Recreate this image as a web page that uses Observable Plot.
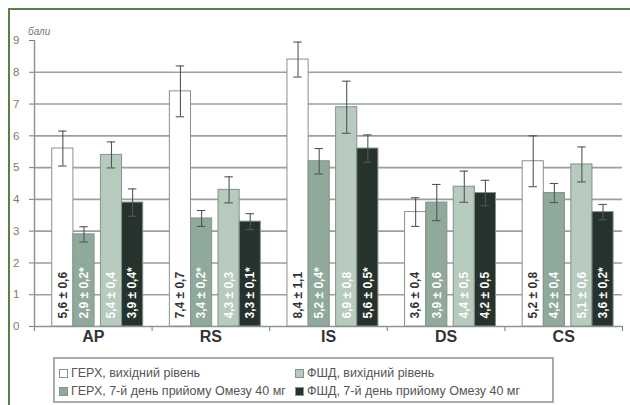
<!DOCTYPE html>
<html><head><meta charset="utf-8">
<script src="https://cdn.jsdelivr.net/npm/d3@7"></script>
<script src="https://cdn.jsdelivr.net/npm/@observablehq/plot@0.6"></script>
<style>
body{margin:0;background:#fff;}
#wrap{position:relative;width:630px;height:405px;overflow:hidden;background:#fff;font-family:"Liberation Sans",Arial,sans-serif;}
.bt{position:absolute;left:8px;top:8px;width:622px;height:2px;background:#5e7d43;}
.bl{position:absolute;left:8px;top:8px;width:2px;height:397px;background:#5e7d43;}
#chart{position:absolute;left:0;top:0;}
#unit{position:absolute;left:28px;top:26px;font-style:italic;font-size:10px;color:#777;}
#legend{position:absolute;left:53px;top:357px;width:501px;height:46px;border:2px solid #a7aeaa;box-sizing:border-box;
  font-family:"Liberation Sans",Arial,sans-serif;font-size:12.5px;color:#555;}
.li{position:absolute;display:flex;align-items:center;white-space:nowrap;line-height:14px;}
.sw{width:7px;height:7px;border:1px solid #87928c;margin-right:3px;}
</style></head>
<body><div id="wrap"><div class="bt"></div><div class="bl"></div><div id="chart"></div><div id="unit">бали</div><div id="legend"></div></div>
<script>
const categories = ["AP", "RS", "IS", "DS", "CS"];
const seriesNames = [
  "ГЕРХ, вихідний рівень",
  "ГЕРХ, 7-й день прийому Омезу 40 мг",
  "ФШД, вихідний рівень",
  "ФШД, 7-й день прийому Омезу 40 мг"
];
const seriesColors = ["#ffffff", "#8fa99a", "#b6cabd", "#25332c"];
const labelColors = ["#333333", "#ffffff", "#ffffff", "#ffffff"];

// bar values and the ± values printed in the labels
const gerdBase = [5.6, 7.4, 8.4, 3.6, 5.2];
const gerdBaseErr = [0.6, 0.7, 1.1, 0.4, 0.8];
const gerdBaseSig = [false, false, false, false, false];

const gerdDay7 = [2.9, 3.4, 5.2, 3.9, 4.2];
const gerdDay7Err = [0.2, 0.2, 0.4, 0.6, 0.4];
const gerdDay7Sig = [true, true, true, false, false];

const fdBase = [5.4, 4.3, 6.9, 4.4, 5.1];
const fdBaseErr = [0.4, 0.3, 0.8, 0.5, 0.6];
const fdBaseSig = [false, false, false, false, false];

const fdDay7 = [3.9, 3.3, 5.6, 4.2, 3.6];
const fdDay7Err = [0.4, 0.1, 0.5, 0.5, 0.2];
const fdDay7Sig = [true, true, true, false, true];

// half-lengths of the error whiskers as drawn in the picture
const gerdBaseWhisker = [0.55, 0.8, 0.55, 0.45, 0.8];
const gerdDay7Whisker = [0.24, 0.25, 0.4, 0.57, 0.3];
const fdBaseWhisker = [0.41, 0.41, 0.82, 0.49, 0.55];
const fdDay7Whisker = [0.43, 0.25, 0.43, 0.4, 0.24];

const yTicks = [0, 1, 2, 3, 4, 5, 6, 7, 8, 9];
const gridLines = [1, 2, 3, 4, 5, 6, 7, 8];

const values = [gerdBase, gerdDay7, fdBase, fdDay7];
const errors = [gerdBaseErr, gerdDay7Err, fdBaseErr, fdDay7Err];
const whiskers = [gerdBaseWhisker, gerdDay7Whisker, fdBaseWhisker, fdDay7Whisker];
const sigs = [gerdBaseSig, gerdDay7Sig, fdBaseSig, fdDay7Sig];

// layout of bars inside each category (in bar-width units)
const W = 5.56, lead = 0.84, off = [0, 1, 2.3, 3.3];
const fmt = v => v.toFixed(1).replace(".", ",");

const rows = [];
seriesNames.forEach((s, si) => categories.forEach((c, ci) => rows.push({
  cat: c, ci, si, series: s,
  value: values[si][ci], err: errors[si][ci], wh: whiskers[si][ci], sig: sigs[si][ci]
})));
const left = d => d.ci * W + lead + off[d.si];
const mid = d => left(d) + 0.5;
const boundaries = d3.range(0, categories.length + 1).map(i => i * W);

const chart = Plot.plot({
  width: 630, height: 352,
  marginLeft: 34, marginRight: 8, marginTop: 40, marginBottom: 26,
  style: {background: "transparent", fontSize: "11.5px", color: "#7a7a7a", fontFamily: "Liberation Sans, Arial, sans-serif"},
  x: {domain: [0, categories.length * W], ticks: boundaries, tickSize: 5, tickFormat: () => "", label: null},
  y: {domain: [0, 9], ticks: yTicks, tickSize: 5, tickPadding: 10, label: null},
  marks: [
    Plot.ruleY(gridLines, {stroke: "#97a29c", strokeWidth: 1.6}),
    Plot.ruleX([0], {y1: 0, y2: 9, stroke: "#8d9691", strokeWidth: 1.5}),
    Plot.ruleY([0], {stroke: "#8d9691", strokeWidth: 1.5}),
    Plot.rect(rows, {x1: left, x2: d => left(d) + 1, y1: 0, y2: "value",
      fill: d => seriesColors[d.si], stroke: "#87928c", strokeWidth: 1}),
    Plot.ruleX(rows, {x: mid, y1: d => d.value - d.wh, y2: d => d.value + d.wh, stroke: "#555", strokeWidth: 1.1}),
    Plot.ruleY(rows, {y: d => d.value + d.wh, x1: d => mid(d) - 0.2, x2: d => mid(d) + 0.2, stroke: "#555", strokeWidth: 1.1}),
    Plot.ruleY(rows, {y: d => d.value - d.wh, x1: d => mid(d) - 0.2, x2: d => mid(d) + 0.2, stroke: "#555", strokeWidth: 1.1}),
    Plot.text(rows, {x: mid, y: 0, rotate: -90, textAnchor: "start", dy: -8,
      text: d => `${fmt(d.value)} ± ${fmt(d.err)}${d.sig ? "*" : ""}`,
      fill: d => labelColors[d.si], fontWeight: "bold", fontSize: 12}),
    Plot.text(categories, {x: (d, i) => i * W + W / 2, frameAnchor: "bottom", dy: 15,
      text: d => d, fill: "#333", fontWeight: "bold", fontSize: 16})
  ]
});
document.getElementById("chart").appendChild(chart);

// legend (row 1: baselines, row 2: day 7)
const legend = document.getElementById("legend");
const legendPos = [[4, 7], [4, 25], [240, 7], [240, 25]];
seriesNames.forEach((s, si) => {
  const el = document.createElement("div");
  el.className = "li";
  el.style.left = legendPos[si][0] + "px";
  el.style.top = legendPos[si][1] + "px";
  el.innerHTML = `<span class="sw" style="background:${seriesColors[si]}"></span><span>${s}</span>`;
  legend.appendChild(el);
});
</script>
</body></html>
